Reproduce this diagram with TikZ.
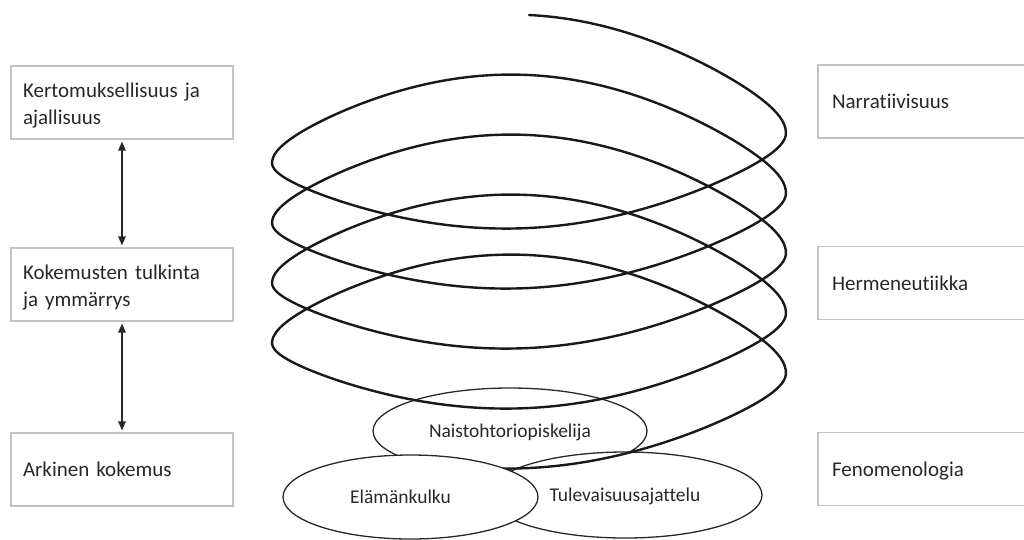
\documentclass[tikz,border=0pt]{standalone}
\usepackage{fontspec}
\setmainfont[Ligatures=NoCommon]{Carlito}
\usetikzlibrary{arrows.meta,shapes.geometric}
\definecolor{boxgray}{RGB}{195,195,195}
\definecolor{ink}{RGB}{40,40,40}
\definecolor{curve}{RGB}{25,25,25}
\begin{document}
\begin{tikzpicture}[x=1pt,y=-1pt,
  box/.style={draw=boxgray, line width=1.1pt, fill=white, minimum width=222pt, minimum height=73pt,
    text width=198pt, inner xsep=12pt, inner ysep=0pt, align=left,
    font=\fontsize{21}{27}\selectfont, text=ink, text depth=0pt},
  twoline/.style={text height=14pt, text depth=24pt},
  rbox/.style={box, text width=194pt, inner xsep=14pt},
  oval/.style={ellipse, draw=ink, line width=1.3pt, fill=white, inner sep=0pt,
    font=\fontsize{19.5}{23}\selectfont, text=ink, text depth=0pt},
  link/.style={draw=ink, line width=1.2pt, shorten <=2pt, shorten >=2pt,
    {Triangle[length=9pt,width=7.5pt]}-{Triangle[length=9pt,width=7.5pt]}},
  spiral/.style={draw=curve, line width=2.4pt, line join=round, line cap=round}
]
\useasboundingbox (0,0) rectangle (1024,539);
\clip (0,0) rectangle (1024,539);
\fill[white] (0,0) rectangle (1024,539);

% left column
\node[box,twoline] (kert) at (122,102.5) {Kertomuksellisuus ja\\ajallisuus};
\node[box,twoline] (koke) at (122,284.5) {Kokemusten tulkinta\\ja ymmärrys};
\node[box] (arki) at (122,469.5) {Arkinen kokemus};
\draw[link] (kert.south) -- (koke.north);
\draw[link] (koke.south) -- (arki.north);

% right column
\node[rbox] (narr) at (929,101.5) {Narratiivisuus};
\node[rbox] (herm) at (929,283) {Hermeneutiikka};
\node[rbox] (feno) at (929,469) {Fenomenologia};

% ellipses and spiral
\node[oval, minimum width=274pt, minimum height=86pt] (nais) at (510,431) {Naistohtoriopiskelija};
\node[oval, minimum width=274pt, minimum height=86pt] (tule) at (625,495) {Tulevaisuusajattelu};
\draw[spiral] plot[domain=-1.5708:26.86, samples=800]
  ({529+3.5791*asin(0.95*cos(\x r))}, {133+sin(\x r)*(103-23*(sin(\x r)>0))+9.55*\x});
\node[oval, minimum width=255pt, minimum height=84pt] (elam) at (410.5,497) {\hspace*{-20pt}Elämänkulku};
\end{tikzpicture}
\end{document}
